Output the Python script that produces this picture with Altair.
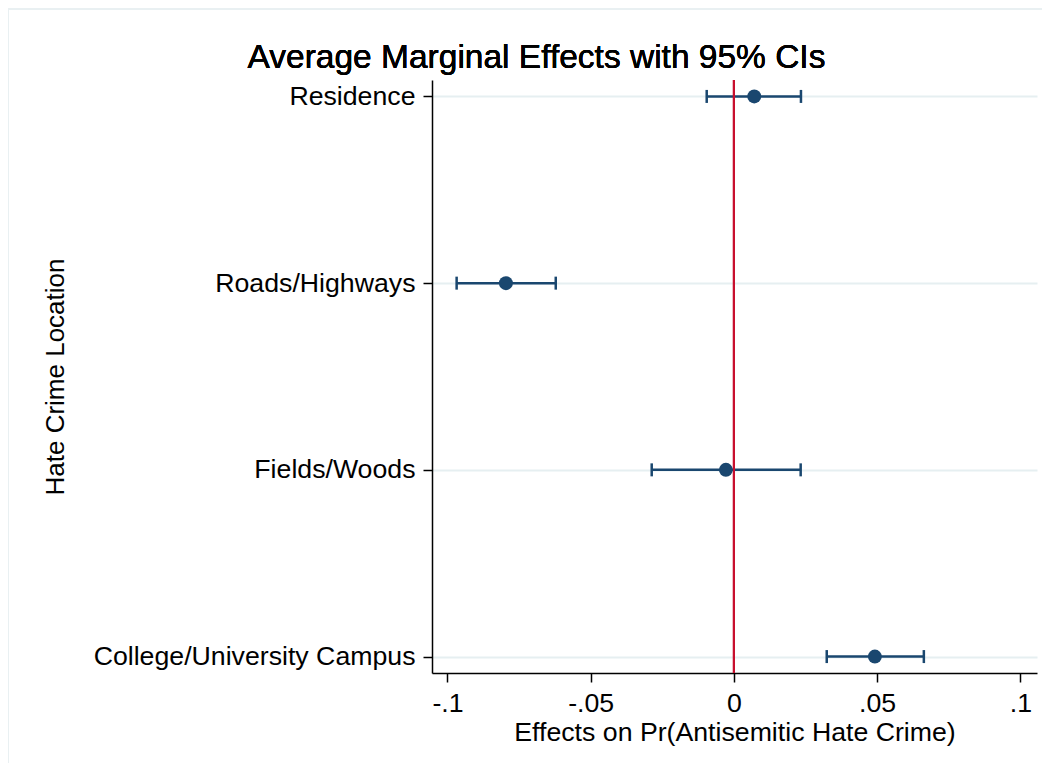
import altair as alt
import pandas as pd

locations = ["Residence", "Roads/Highways", "Fields/Woods", "College/University Campus"]
effects = [0.0071, -0.0796, -0.0028, 0.0492]
lower = [-0.0095, -0.0968, -0.0287, 0.0324]
upper = [0.0234, -0.0622, 0.0233, 0.0663]
x_ticks = [-0.1, -0.05, 0, 0.05, 0.1]
title_text = "Average Marginal Effects with 95% CIs"

df = pd.DataFrame({"loc": locations, "eff": effects, "lo": lower, "hi": upper})

FONT = "Liberation Sans"
NAVY = "#1a476f"
W, H = 605, 593

xscale = alt.Scale(domain=[-0.1054, 0.1058], nice=False, zero=False)
yscale = alt.Scale(type="point", domain=locations, padding=0.088)

xaxis = alt.Axis(
    values=x_ticks,
    labelExpr="(datum.value < 0 ? '-' : '') + replace(toString(abs(datum.value)), '0.', '.')",
    title="Effects on Pr(Antisemitic Hate Crime)",
    titleFontSize=26.7,
    grid=False,
    tickSize=9,
    labelPadding=8,
    titleY=67,
    titleBaseline="alphabetic",
)
yaxis = alt.Axis(
    title="Hate Crime Location",
    titleFontSize=26,
    grid=True,
    gridColor="#e6eff1",
    gridWidth=2,
    tickSize=9,
    labelPadding=8,
    labelLimit=500,
    titleX=-377,
    titleBaseline="middle",
    titleAngle=-90,
)

base = alt.Chart(df)

frame = base.mark_rect(fill=None, stroke="#e9f0f2", strokeWidth=1.5).encode(
    x=alt.value(-424), x2=alt.value(W + 40), y=alt.value(-71), y2=alt.value(H + 140)
)

title = base.mark_text(
    text=title_text, font=FONT, fontSize=33.5, color="black",
    align="center", baseline="alphabetic",
).encode(x=alt.value(104.5), y=alt.value(-12))

bars = base.mark_rule(color=NAVY, strokeWidth=2.5).encode(
    x=alt.X("lo:Q", scale=xscale, axis=xaxis),
    x2="hi:Q",
    y=alt.Y("loc:N", scale=yscale, axis=yaxis, sort=locations),
)
cap_lo = base.mark_tick(color=NAVY, thickness=2.5, size=13, opacity=1).encode(
    x=alt.X("lo:Q", scale=xscale),
    y=alt.Y("loc:N", scale=yscale, sort=locations),
)
cap_hi = base.mark_tick(color=NAVY, thickness=2.5, size=13, opacity=1).encode(
    x=alt.X("hi:Q", scale=xscale),
    y=alt.Y("loc:N", scale=yscale, sort=locations),
)
zero = base.mark_rule(color="#c8102e", strokeWidth=2).encode(x=alt.datum(0))
pts = base.mark_circle(color=NAVY, size=195, opacity=1).encode(
    x=alt.X("eff:Q", scale=xscale),
    y=alt.Y("loc:N", scale=yscale, sort=locations),
)

chart = (
    alt.layer(frame, bars, cap_lo, cap_hi, zero, pts, title)
    .properties(
        width=W,
        height=H,
        autosize=alt.AutoSizeParams(type="none"),
        padding={"left": 424, "top": 72, "right": 5, "bottom": 90},
        background="white",
    )
    .configure_view(stroke=None)
    .configure_axis(
        labelFont=FONT,
        titleFont=FONT,
        labelFontSize=26.7,
        titleFontWeight="normal",
        labelColor="black",
        titleColor="black",
        domainColor="black",
        domainWidth=1.5,
        tickColor="black",
        tickWidth=1.5,
    )
)

chart.save("out.html", embed_options={"renderer": "svg", "actions": False})
